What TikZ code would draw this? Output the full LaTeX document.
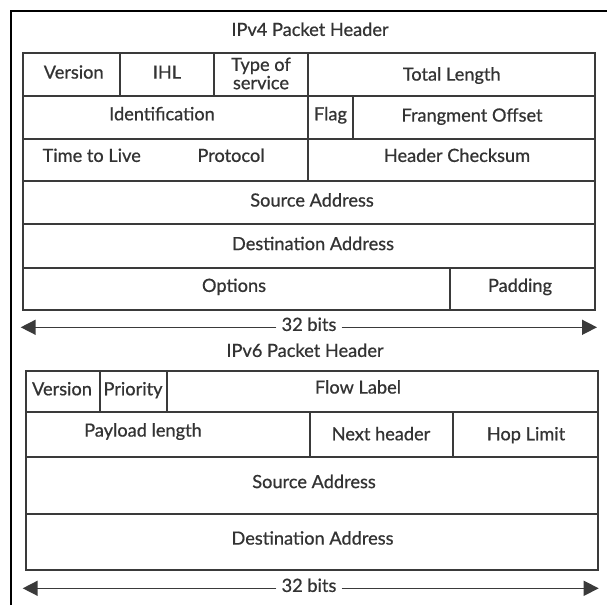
\documentclass[tikz,border=0pt]{standalone}
\usepackage{fontspec}
\setmainfont{Lato}[FakeBold=0.7]
\usetikzlibrary{arrows.meta}
\definecolor{ln}{HTML}{3A3A3A}
\definecolor{tx}{HTML}{333333}
\begin{document}
\begin{tikzpicture}[x=1pt,y=-1pt,
  grid/.style={draw=ln, line width=1.8pt},
  lbl/.style={font=\fontsize{18.2}{18.3}\selectfont, text=tx, inner sep=0pt, text height=0.72em, text depth=0pt, anchor=center},
  lbl2/.style={font=\fontsize{18.2}{18.3}\selectfont, text=tx, inner sep=0pt, align=center, anchor=center},
  dim/.style={draw=ln, line width=1.5pt, -{Triangle[length=15pt,width=15pt]}},
  gap/.style={inner xsep=5pt}
]
\useasboundingbox (0,0) rectangle (607,605);
\fill[white] (0,0) rectangle (607,605);
% outer frame
\draw[line width=2.4pt] (11,605) -- (11,11) -- (607,11);

% ---------- IPv4 ----------
\node[lbl] (t4) at (310,32.3) {IPv4 Packet Header};
\draw[grid] (23,52.7) rectangle (595,310);
\draw[grid] (23,95.7) -- (595,95.7);
\draw[grid] (23,139.3) -- (595,139.3);
\draw[grid] (23,181) -- (595,181);
\draw[grid] (23,224.3) -- (595,224.3);
\draw[grid] (23,267.7) -- (595,267.7);
\draw[grid] (120,52.7) -- (120,95.7);
\draw[grid] (214.3,52.7) -- (214.3,95.7);
\draw[grid] (308.3,52.7) -- (308.3,181);
\draw[grid] (352.7,95.7) -- (352.7,139.3);
\draw[grid] (450.3,267.7) -- (450.3,310);

\node[lbl] (v4ver) at (73.7,75) {Version};
\node[lbl] (v4ihl) at (167,75) {IHL};
\node[lbl2] (v4tos) at (261,73.5) {Type of\\service};
\node[lbl] (v4tl) at (451.7,77) {Total Length};
\node[lbl] (v4id) at (162,116.7) {Identification};
\node[lbl] (v4flag) at (330.5,116.7) {Flag};
\node[lbl] (v4fo) at (472,118) {Frangment Offset};
\node[lbl] (v4ttl) at (91.7,158.3) {Time to Live};
\node[lbl] (v4proto) at (231,158.3) {Protocol};
\node[lbl] (v4hc) at (457,158.3) {Header Checksum};
\node[lbl] (v4src) at (312,203) {Source Address};
\node[lbl] (v4dst) at (313,246.5) {Destination Address};
\node[lbl] (v4opt) at (234,288.3) {Options};
\node[lbl] (v4pad) at (520,288.3) {Padding};

\coordinate (a4l) at (20.7,327.3);
\coordinate (a4r) at (597,327.3);
\node[lbl,gap] (b4) at (309,327.3) {32 bits};
\draw[dim] (b4) -- (a4l);
\draw[dim] (b4) -- (a4r);

% ---------- IPv6 ----------
\node[lbl] (t6) at (305,353.3) {IPv6 Packet Header};
\draw[grid] (26,371) rectangle (597.7,570);
\draw[grid] (26,412.3) -- (597.7,412.3);
\draw[grid] (26,456.7) -- (597.7,456.7);
\draw[grid] (26,513.7) -- (597.7,513.7);
\draw[grid] (100,371) -- (100,412.3);
\draw[grid] (166.7,371) -- (166.7,412.3);
\draw[grid] (310,412.3) -- (310,456.7);
\draw[grid] (453,412.3) -- (453,456.7);

\node[lbl] (v6ver) at (62,391.7) {Version};
\node[lbl] (v6pri) at (133,391.7) {Priority};
\node[lbl] (v6fl) at (358,390) {Flow Label};
\node[lbl] (v6pl) at (143,433) {Payload length};
\node[lbl] (v6nh) at (381,436.7) {Next header};
\node[lbl] (v6hl) at (526,436.7) {Hop Limit};
\node[lbl] (v6src) at (314,484.5) {Source Address};
\node[lbl] (v6dst) at (312.5,541) {Destination Address};

\coordinate (a6l) at (22.7,588.3);
\coordinate (a6r) at (598.7,588.3);
\node[lbl,gap] (b6) at (309,588.3) {32 bits};
\draw[dim] (b6) -- (a6l);
\draw[dim] (b6) -- (a6r);
\end{tikzpicture}
\end{document}
